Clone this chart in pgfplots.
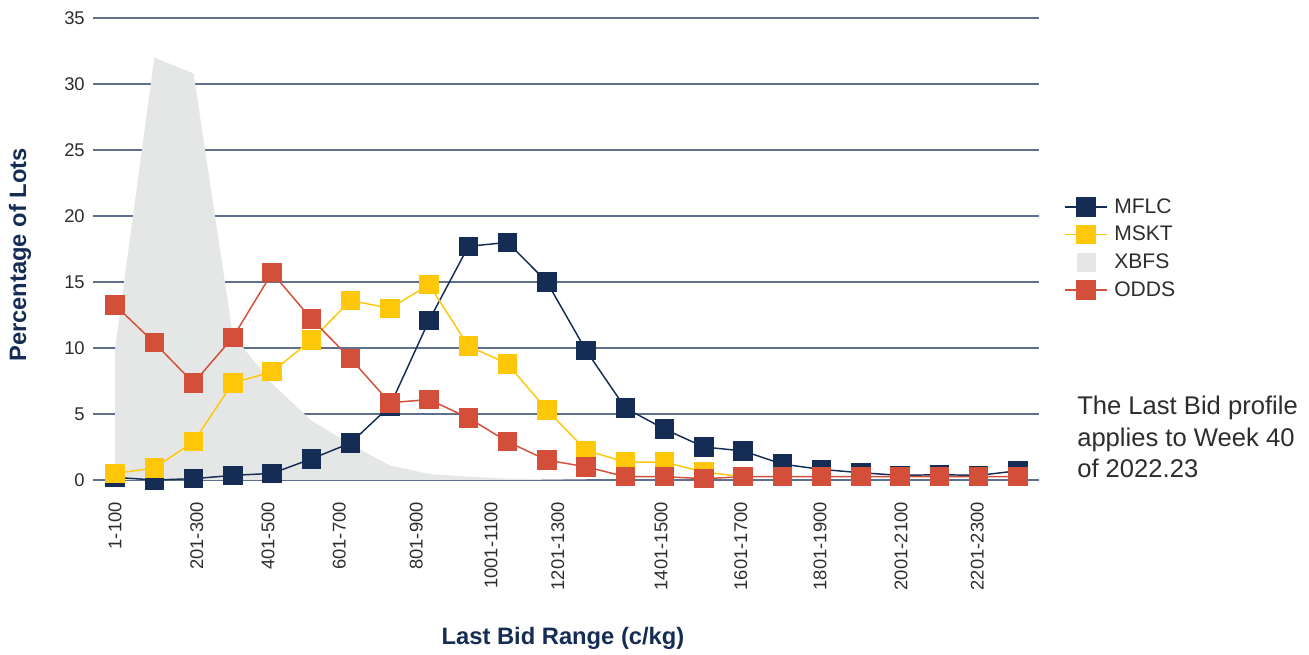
\documentclass[border=0pt]{standalone}
\usepackage{fontspec}
\setmainfont{Liberation Sans}
\usepackage{pgfplots}
\pgfplotsset{compat=1.18}
\definecolor{mflc}{RGB}{21,45,85}
\definecolor{mskt}{RGB}{255,199,10}
\definecolor{odds}{RGB}{212,79,57}
\definecolor{xbfs}{RGB}{229,231,230}
\definecolor{gridc}{RGB}{95,112,140}
\definecolor{textc}{RGB}{45,45,45}
\pgfplotsset{
  mflcstyle/.style={color=mflc, line width=1.1pt, mark=square*, mark size=6.75pt, mark options={solid, fill=mflc, draw=none}},
  msktstyle/.style={color=mskt, line width=1.1pt, mark=square*, mark size=6.75pt, mark options={solid, fill=mskt, draw=none}},
  oddsstyle/.style={color=odds, line width=1.1pt, mark=square*, mark size=6.75pt, mark options={solid, fill=odds, draw=none}},
}
\begin{document}
\begin{tikzpicture}
\useasboundingbox (-72.75pt,-131.25pt) rectangle (909pt,360pt);
\begin{axis}[
  at={(0pt,0pt)}, anchor=south west, scale only axis,
  width=703.4pt, height=346.5pt,
  xmin=-0.46, xmax=23.43, ymin=0, ymax=35,
  clip=false,
  axis line style={draw=none},
  ytick={0,5,...,35},
  xtick={0,2.08,3.9,5.71,7.67,9.58,11.28,13.91,15.94,17.96,20.02,21.96},
  xticklabels={1-100,201-300,401-500,601-700,801-900,1001-1100,1201-1300,1401-1500,1601-1700,1801-1900,2001-2100,2201-2300},
  ymajorgrids,
  grid style={draw=gridc, line width=1.1pt},
  tick align=outside,
  major tick length=3pt,
  xtick style={draw=none},
  ytick style={draw=gridc, line width=1pt},
  /pgf/number format/assume math mode=true,
  tick label style={font=\fontsize{13.8}{16}\selectfont, color=textc},
  yticklabel style={anchor=east, inner sep=0pt, xshift=-6pt},
  xticklabel style={rotate=90, anchor=east, inner sep=0pt},
  xticklabel shift=13.5pt,
  legend cell align=left,
  legend style={at={(1.0267,0.6215)}, anchor=north west, draw=none, fill=none,
    font=\fontsize{15.8}{18}\selectfont, text=textc, row sep=4.3pt,
    /tikz/every odd column/.style={column sep=3pt}},
  legend image code/.code={\draw[mark repeat=2,mark phase=2,#1] plot coordinates {(0pt,0pt) (15.75pt,0pt) (31.5pt,0pt)};},
]
\addlegendimage{mflcstyle}
\addlegendentry{MFLC}
\addlegendimage{msktstyle}
\addlegendentry{MSKT}
\addlegendimage{only marks, color=xbfs, mark=square*, mark size=6.75pt, mark options={fill=xbfs, draw=none}}
\addlegendentry{XBFS}
\addlegendimage{oddsstyle}
\addlegendentry{ODDS}

% XBFS area
\addplot[fill=xbfs, draw=none, forget plot] coordinates {
(0,9.9) (1,32.0) (2,30.8) (3,11.0) (4,7.3) (5,4.5) (6,2.7) (7,1.1) (8,0.45) (9,0.25) (10,0.1) (11,0.05) (12,0.02)
} \closedcycle;

% MFLC
\addplot[mflcstyle, forget plot] coordinates {
(0,0.2) (1,0.0) (2,0.1) (3,0.35) (4,0.5) (5,1.6) (6,2.8) (7,5.6) (8,12.1) (9,17.7) (10,18.0) (11,15.0)
(12,9.8) (13,5.45) (14,3.85) (15,2.5) (16,2.2) (17,1.2) (18,0.8) (19,0.55) (20,0.35) (21,0.4) (22,0.35) (23,0.7)
};

% MSKT
\addplot[msktstyle, forget plot] coordinates {
(0,0.5) (1,0.9) (2,2.9) (3,7.35) (4,8.2) (5,10.6) (6,13.6) (7,13.0) (8,14.8) (9,10.15) (10,8.8) (11,5.3)
(12,2.25) (13,1.35) (14,1.35) (15,0.6) (16,0.25)
};

% ODDS
\addplot[oddsstyle, forget plot] coordinates {
(0,13.25) (1,10.4) (2,7.35) (3,10.8) (4,15.7) (5,12.2) (6,9.2) (7,5.85) (8,6.1) (9,4.7) (10,2.9) (11,1.5)
(12,1.0) (13,0.25) (14,0.25) (15,0.1) (16,0.25) (17,0.25) (18,0.25) (19,0.25) (20,0.25) (21,0.25) (22,0.25) (23,0.25)
};
\end{axis}
\node[rotate=90, anchor=center, font=\bfseries\fontsize{17.8}{20}\selectfont, text=mflc] at (-57.75pt,168.75pt) {Percentage of Lots};
\node[anchor=base, font=\bfseries\fontsize{17.8}{20}\selectfont, text=mflc] at (349.5pt,-123.75pt) {Last Bid Range (c/kg)};
\node[anchor=base west, inner sep=0pt, font=\fontsize{19.2}{23}\selectfont, text=textc] at (735pt,48.75pt) {The Last Bid profile};
\node[anchor=base west, inner sep=0pt, font=\fontsize{19.2}{23}\selectfont, text=textc] at (735pt,25.1pt) {applies to Week 40};
\node[anchor=base west, inner sep=0pt, font=\fontsize{19.2}{23}\selectfont, text=textc] at (735pt,1.5pt) {of 2022.23};
\end{tikzpicture}
\end{document}
